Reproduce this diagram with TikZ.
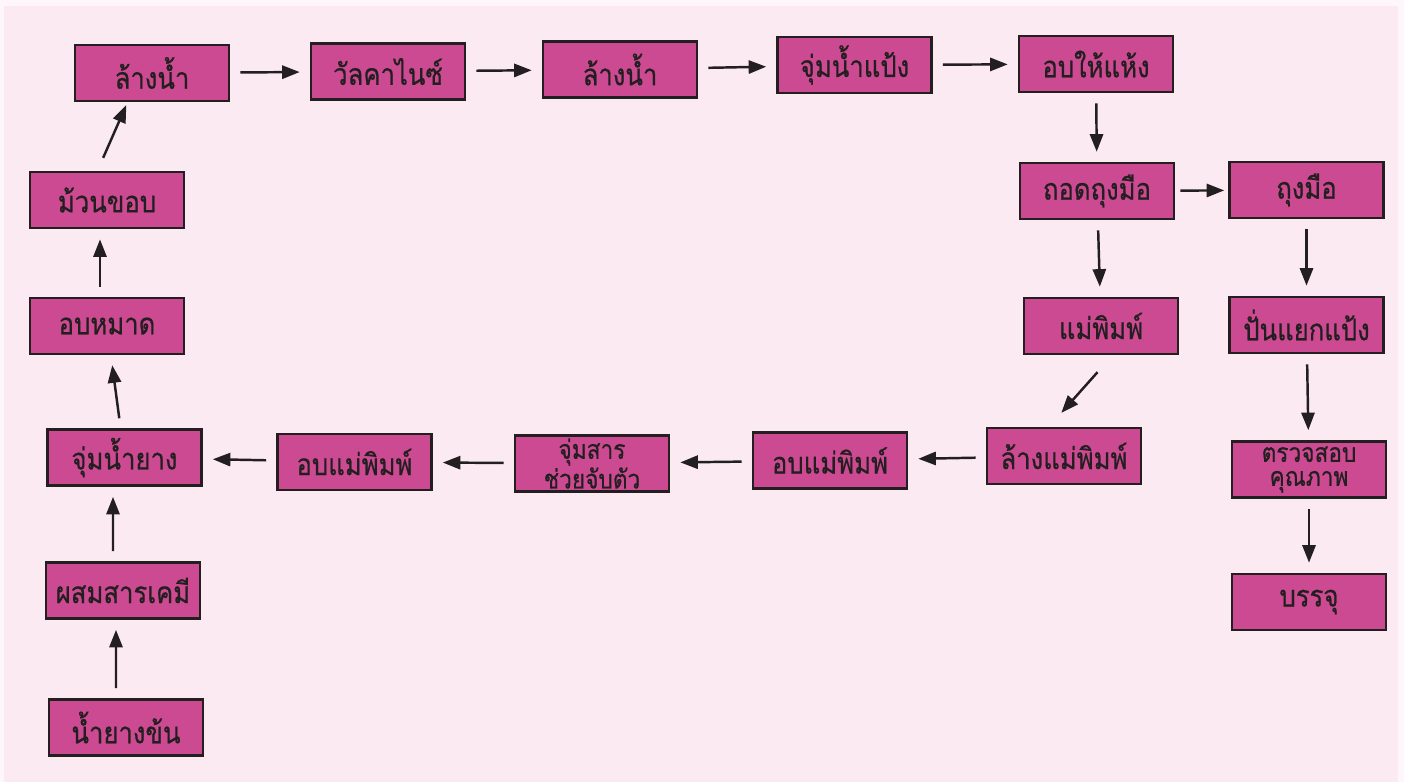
\documentclass[tikz,border=0pt]{standalone}
\usepackage{fontspec}
\newfontfamily\thaifont[Script=Thai,FakeStretch=0.86,FakeBold=0.6]{Loma}
\usetikzlibrary{arrows.meta}
\definecolor{boxpink}{HTML}{CC4A92}
\definecolor{linedark}{HTML}{231F20}
\definecolor{paperpink}{HTML}{FCEAF2}
\definecolor{edgepink}{HTML}{FEF6FA}
\tikzset{
  stepbox/.style={draw=linedark, line width=1.5pt, fill=boxpink, text=linedark,
    minimum width=3.08cm, minimum height=1.12cm, inner sep=1pt,
    font=\thaifont\fontsize{17}{17}\selectfont},
  twoline/.style={align=center, font=\thaifont\fontsize{15}{13.6}\selectfont},
  flow/.style={draw=linedark, line width=1.4pt, -{Triangle[length=10pt,width=7.5pt]},
    shorten <=0.2cm, shorten >=0.2cm}
}
\begin{document}
\begin{tikzpicture}[x=0.02cm,y=-0.02cm]
  \useasboundingbox (0,0) rectangle (1404,782);
  \fill[edgepink] (0,0) rectangle (1404,782);
  \fill[paperpink] (4,6) rectangle (1398,782);

  % top row
  \node[stepbox] (lang1) at (152,73) {ล้างน้ำ};
  \node[stepbox] (vulc) at (388,71.5) {วัลคาไนซ์};
  \node[stepbox] (lang2) at (620,69.5) {ล้างน้ำ};
  \node[stepbox] (jumpaeng) at (854.5,65) {จุ่มน้ำแป้ง};
  \node[stepbox] (obhaeng) at (1096,64) {อบให้แห้ง};

  % right side
  \node[stepbox] (thod) at (1097,191) {ถอดถุงมือ};
  \node[stepbox] (thung) at (1306.5,190) {ถุงมือ};
  \node[stepbox] (maepim) at (1101,326) {แม่พิมพ์};
  \node[stepbox] (pan) at (1306.5,325) {ปั่นแยกแป้ง};
  \node[stepbox, twoline] (truat) at (1309,469.5) {ตรวจสอบ\\คุณภาพ};
  \node[stepbox] (banchu) at (1309,602) {บรรจุ};

  % bottom row
  \node[stepbox] (langmae) at (1064,456) {ล้างแม่พิมพ์};
  \node[stepbox] (obmaeR) at (830,460.5) {อบแม่พิมพ์};
  \node[stepbox, twoline] (jumsan) at (592,463.5) {จุ่มสาร\\ช่วยจับตัว};
  \node[stepbox] (obmaeL) at (354.5,462) {อบแม่พิมพ์};

  % left column
  \node[stepbox] (jumyang) at (124.5,457.5) {จุ่มน้ำยาง};
  \node[stepbox] (phasom) at (123,590.5) {ผสมสารเคมี};
  \node[stepbox] (namyang) at (126,727.5) {น้ำยางข้น};
  \node[stepbox] (obmat) at (107,326) {อบหมาด};
  \node[stepbox] (muan) at (107,200) {ม้วนขอบ};

  % arrows
  \draw[flow] ([xshift=-0.2cm]namyang.north) -- ([xshift=-0.14cm]phasom.south);
  \draw[flow] ([xshift=-0.2cm]phasom.north) -- ([xshift=-0.23cm]jumyang.south);
  \draw[flow] (jumyang) -- (obmat);
  \draw[flow] ([xshift=-0.14cm]obmat.north) -- ([xshift=-0.14cm]muan.south);
  \draw[flow, shorten <=0.28cm, shorten >=0.06cm] ([xshift=-0.19cm]muan.north) -- ([xshift=-0.49cm]lang1.south);
  \draw[flow] (lang1) -- (vulc);
  \draw[flow] (vulc) -- (lang2);
  \draw[flow] (lang2) -- (jumpaeng);
  \draw[flow] (jumpaeng) -- (obhaeng);
  \draw[flow] (obhaeng) -- (thod);
  \draw[flow, shorten <=0.1cm, shorten >=0.08cm] (thod) -- (thung);
  \draw[flow] (thod) -- (maepim);
  \draw[flow] (thung) -- (pan);
  \draw[flow] (pan) -- (truat);
  \draw[flow] (truat) -- (banchu);
  \draw[flow, shorten <=0.45cm, shorten >=0.37cm] ([xshift=0.23cm]maepim.south) -- ([xshift=-0.3cm]langmae.north);
  \draw[flow] (langmae) -- (obmaeR);
  \draw[flow] (obmaeR) -- (jumsan);
  \draw[flow] (jumsan) -- (obmaeL);
  \draw[flow] (obmaeL) -- (jumyang);
\end{tikzpicture}
\end{document}
